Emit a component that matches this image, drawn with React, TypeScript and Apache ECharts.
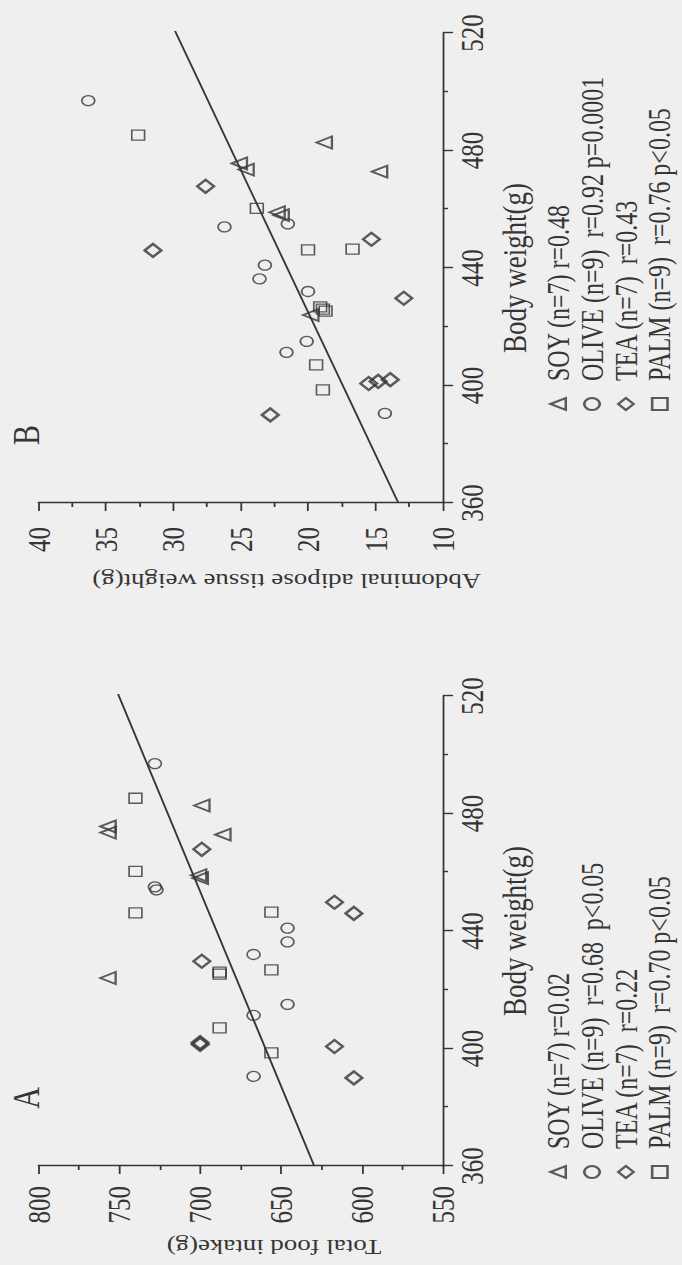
import React, { useEffect, useRef } from "react";
import * as echarts from "echarts";

// Page is portrait; the figure is laid out landscape and turned a quarter turn.
const PAGE_W = 682;
const PAGE_H = 1265;
const STRETCH = 1.28;
const FIG_W = PAGE_H;
const FIG_H = PAGE_W / STRETCH;
// Extra room below the visible figure so the legends never wrap into a second column
const FIG_SPARE = 100;

const INK = "#353535";
const PAPER = "#efefef";
const FONT = "'Liberation Serif', 'Times New Roman', serif";
const NB = "\u00A0";

// Body weight axis (shared by both panels)
const weightMin = 360;
const weightMax = 520;
const weightStep = 40;
// Panel A: total food intake
const foodMin = 550;
const foodMax = 800;
const foodStep = 50;
// Panel B: abdominal adipose tissue weight
const fatMin = 10;
const fatMax = 40;
const fatStep = 5;

// SOY group
const soyWeight = [424, 458, 459, 472.8, 473.5, 475.6, 482.7];
const soyFood = [757, 700, 701, 686, 757, 757, 699];
const soyFat = [19.8, 22.0, 22.3, 14.7, 24.6, 25.1, 18.8];

// OLIVE group
const oliveWeight = [390.5, 411.3, 415, 432, 436.3, 441, 454, 455, 497];
const oliveFood = [667, 667, 646, 667, 646, 646, 727, 728, 728];
const oliveFat = [14.3, 21.6, 20.1, 20.0, 23.6, 23.2, 26.2, 21.5, 36.3];

// TEA group
const teaWeight = [390, 400.7, 401.4, 402, 429.7, 446, 449.8, 467.8];
const teaFood = [605, 617, 700, 700, 699, 605, 617, 699];
const teaFat = [22.8, 15.5, 14.8, 13.9, 12.9, 31.5, 15.3, 27.6];

// PALM group
const palmWeight = [398.5, 407, 425.3, 426, 426.8, 446.2, 446.4, 460.3, 485.2];
const palmFood = [656, 688, 688, 688, 656, 740, 656, 740, 740];
const palmFat = [18.9, 19.4, 18.7, 18.9, 19.1, 20.0, 16.7, 23.8, 32.6];

// Regression lines (end points)
const foodFitWeight = [360, 521];
const foodFitValue = [629.5, 751];
const fatFitWeight = [360, 522];
const fatFitValue = [13.3, 30.0];

// Legend labels
const foodLabels = [
  "SOY (n=7) r=0.02",
  `OLIVE (n=9)${NB} r=0.68${NB} p<0.05`,
  `TEA (n=7)${NB} r=0.22`,
  `PALM (n=9)${NB} r=0.70 p<0.05`,
];
const fatLabels = [
  "SOY (n=7) r=0.48",
  `OLIVE (n=9)${NB} r=0.92 p=0.0001`,
  `TEA (n=7)${NB} r=0.43`,
  `PALM (n=9)${NB} r=0.76 p<0.05`,
];

const groups = [
  { weight: soyWeight, food: soyFood, fat: soyFat, symbol: "triangle", size: 12, stroke: 1.8 },
  { weight: oliveWeight, food: oliveFood, fat: oliveFat, symbol: "circle", size: 10, stroke: 1.3 },
  { weight: teaWeight, food: teaFood, fat: teaFat, symbol: "diamond", size: 13, stroke: 2.2 },
  { weight: palmWeight, food: palmFood, fat: palmFat, symbol: "rect", size: 10, stroke: 1.3 },
];

const panels = [
  { left: 99, letter: "A", title: "Total food intake(g)", titleX: 18, titleY: 214, legendLeft: 81, labels: foodLabels, key: "food", min: foodMin, max: foodMax, step: foodStep, fitW: foodFitWeight, fitV: foodFitValue, labelMargin: 20 },
  { left: 762, letter: "B", title: "Abdominal adipose tissue weight(g)", titleX: 684, titleY: 224, legendLeft: 849, labels: fatLabels, key: "fat", min: fatMin, max: fatMax, step: fatStep, fitW: fatFitWeight, fitV: fatFitValue, labelMargin: 24 },
];

const GRID_TOP = 30;
const GRID_W = 470;
const GRID_H = 316;

export default function App() {
  const ref = useRef<HTMLDivElement>(null);

  useEffect(() => {
    if (!ref.current) return;
    const chart = echarts.init(ref.current, null, { renderer: "svg" });

    const lineStyle = { color: INK, width: 1.4 };
    const tickText = { color: INK, fontFamily: FONT, fontSize: 25 };

    const grid = panels.map((p) => ({ left: p.left, top: GRID_TOP, width: GRID_W, height: GRID_H }));

    const xAxis = panels.map((p, i) => ({
      type: "value",
      gridIndex: i,
      min: weightMin,
      max: weightMax,
      interval: weightStep,
      axisLine: { show: true, lineStyle },
      axisTick: { show: true, inside: false, length: 8, lineStyle },
      minorTick: { show: true, splitNumber: 2, length: 4, lineStyle },
      splitLine: { show: false },
      axisLabel: { ...tickText, margin: 10 },
    }));

    const yAxis = panels.map((p, i) => ({
      type: "value",
      gridIndex: i,
      min: p.min,
      max: p.max,
      interval: p.step,
      axisLine: { show: true, lineStyle },
      axisTick: { show: true, inside: false, length: 8, lineStyle },
      minorTick: { show: true, splitNumber: 2, length: 4, lineStyle },
      splitLine: { show: false },
      axisLabel: { ...tickText, margin: p.labelMargin },
    }));

    const series: any[] = [];
    panels.forEach((p, i) => {
      groups.forEach((g, k) => {
        const values = p.key === "food" ? g.food : g.fat;
        series.push({
          type: "scatter",
          name: p.labels[k],
          xAxisIndex: i,
          yAxisIndex: i,
          symbol: g.symbol,
          symbolSize: g.size,
          itemStyle: { color: "transparent", borderColor: INK, borderWidth: g.stroke },
          data: g.weight.map((w, j) => [w, values[j]]),
          z: 3,
        });
      });
      series.push({
        type: "line",
        xAxisIndex: i,
        yAxisIndex: i,
        data: p.fitW.map((w, j) => [w, p.fitV[j]]),
        symbol: "none",
        clip: false,
        lineStyle: { color: INK, width: 1.5 },
        z: 2,
      });
    });

    const legend = panels.map((p) => ({
      data: p.labels,
      orient: "vertical",
      left: p.legendLeft,
      top: 419,
      itemWidth: 12,
      itemHeight: 12,
      itemGap: 2.5,
      selectedMode: false,
      textStyle: { color: INK, fontFamily: FONT, fontSize: 24, padding: [0, 0, 0, 12] },
    }));

    const graphic: any[] = [];
    panels.forEach((p) => {
      graphic.push({
        type: "text",
        x: p.left + 68,
        y: 20,
        style: { text: p.letter, fill: INK, font: `30px ${FONT}`, textAlign: "center", textVerticalAlign: "middle" },
      });
      graphic.push({
        type: "text",
        x: p.left + GRID_W / 2,
        y: 402,
        style: { text: "Body weight(g)", fill: INK, font: `27px ${FONT}`, textAlign: "center", textVerticalAlign: "middle" },
      });
      graphic.push({
        type: "text",
        x: p.titleX,
        y: p.titleY,
        rotation: Math.PI / 2,
        style: { text: p.title, fill: INK, font: `21px ${FONT}`, textAlign: "center", textVerticalAlign: "middle" },
      });
    });

    chart.setOption({
      animation: false,
      backgroundColor: PAPER,
      grid,
      xAxis,
      yAxis,
      series,
      legend,
      graphic,
    });

    return () => chart.dispose();
  }, []);

  return (
    <div
      style={{
        position: "fixed",
        left: 0,
        top: 0,
        width: PAGE_W,
        height: PAGE_H,
        overflow: "hidden",
        background: PAPER,
      }}
    >
      <div
        ref={ref}
        style={{
          position: "absolute",
          left: 0,
          top: 0,
          width: FIG_W,
          height: FIG_H + FIG_SPARE,
          transformOrigin: "0 0",
          transform: `translateY(${PAGE_H}px) rotate(-90deg) scaleY(${STRETCH})`,
        }}
      />
    </div>
  );
}
